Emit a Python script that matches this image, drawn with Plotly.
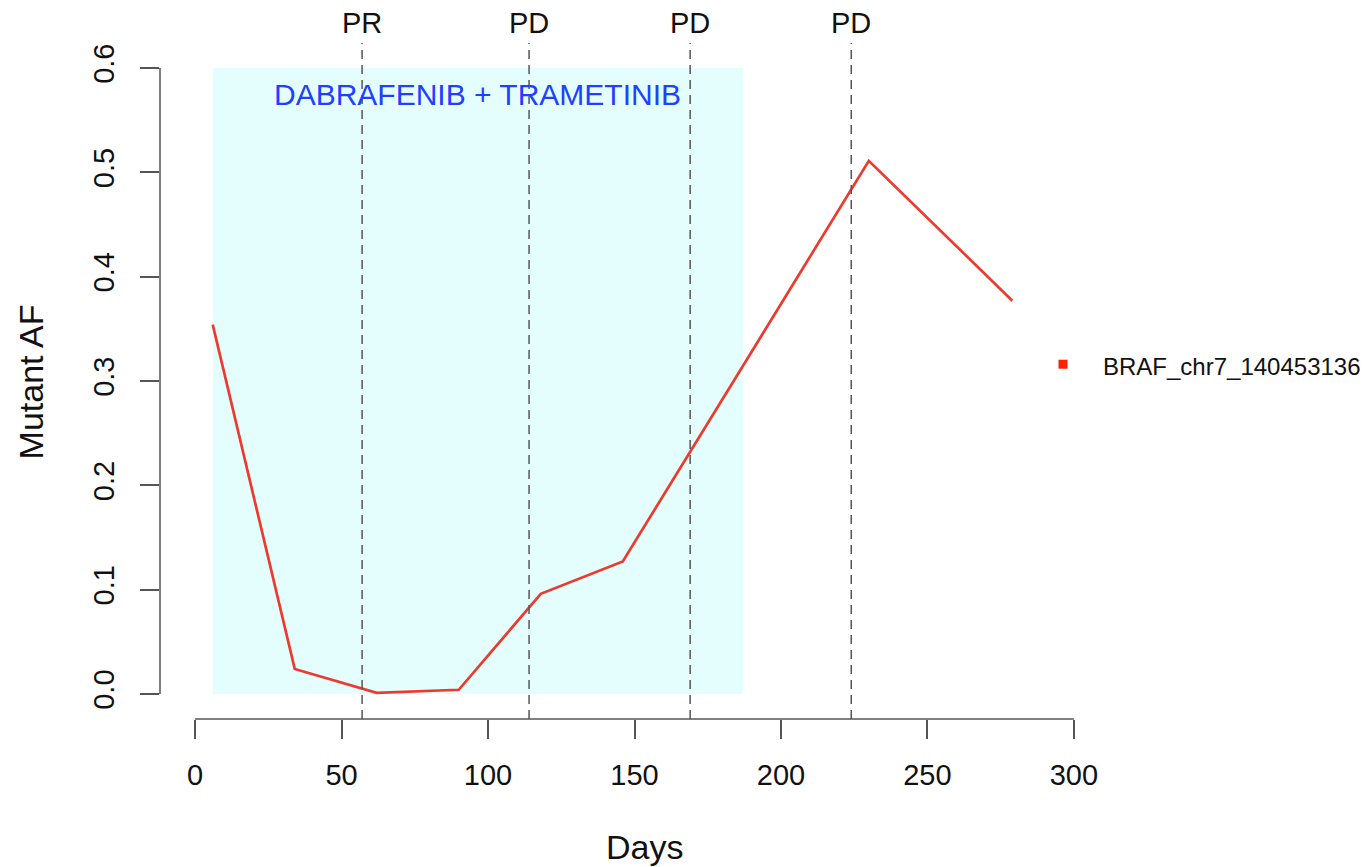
import plotly.graph_objects as go

# Data
days = [6, 34, 62, 90, 118, 146, 230, 279]
mutant_af = [0.354, 0.024, 0.001, 0.004, 0.096, 0.127, 0.511, 0.377]
series_name = "BRAF_chr7_140453136"
series_color = "#EE3A2E"
legend_color = "#FF2000"

event_days = [57, 114, 169, 224]
event_labels = ["PR", "PD", "PD", "PD"]

treatment_name = "DABRAFENIB + TRAMETINIB"
treatment_start = 6
treatment_end = 187
treatment_af_range = [0.0, 0.6]

x_ticks = [0, 50, 100, 150, 200, 250, 300]
y_ticks = [0.0, 0.1, 0.2, 0.3, 0.4, 0.5, 0.6]
y_tick_text = ["0.0", "0.1", "0.2", "0.3", "0.4", "0.5", "0.6"]

FONT = "Liberation Sans, Arial, Helvetica, sans-serif"
AXIS_COLOR = "#555555"

PLOT_L, PLOT_R, PLOT_T, PLOT_B = 159.8, 1109.0, 42.6, 719.0


def px_x(p):
    return (p - PLOT_L) / (PLOT_R - PLOT_L)


def px_y(p):
    return (PLOT_B - p) / (PLOT_B - PLOT_T)


fig = go.Figure()

fig.add_trace(go.Scatter(
    x=days, y=mutant_af, mode="lines", name=series_name,
    line=dict(color=series_color, width=2.7),
    showlegend=False,
))

shapes = []
# treatment window
shapes.append(dict(type="rect", xref="x", yref="y",
                   x0=treatment_start, x1=treatment_end,
                   y0=treatment_af_range[0], y1=treatment_af_range[1],
                   fillcolor="#E4FEFE", line=dict(width=0), layer="below"))
# event lines
for d in event_days:
    shapes.append(dict(type="line", xref="x", yref="paper", x0=d, x1=d, y0=0, y1=1,
                       line=dict(color="#555555", width=1.5, dash="9px,6px")))
# R-style axis lines
shapes.append(dict(type="line", xref="x", yref="paper", x0=x_ticks[0], x1=x_ticks[-1],
                   y0=0, y1=0, line=dict(color=AXIS_COLOR, width=1.5)))
shapes.append(dict(type="line", xref="paper", yref="y", x0=0, x1=0,
                   y0=y_ticks[0], y1=y_ticks[-1], line=dict(color=AXIS_COLOR, width=1.5)))
# legend key (square)
shapes.append(dict(type="rect", xref="paper", yref="paper",
                   xsizemode="pixel", ysizemode="pixel",
                   xanchor=px_x(1063), yanchor=px_y(364),
                   x0=-4.5, x1=4.5, y0=-4.5, y1=4.5,
                   fillcolor=legend_color, line=dict(width=0)))

annotations = []
for d, lab in zip(event_days, event_labels):
    annotations.append(dict(x=d, xref="x", y=1, yref="paper", yanchor="bottom",
                            yshift=2, text=lab, showarrow=False,
                            font=dict(family=FONT, size=29, color="#111111")))
annotations.append(dict(x=(treatment_start + treatment_end) / 2, xref="x", y=0.575, yref="y",
                        xanchor="center", yanchor="middle",
                        text=treatment_name, showarrow=False,
                        font=dict(family=FONT, size=30, color="#2040FF")))
annotations.append(dict(x=px_x(644), xref="paper", y=px_y(847), yref="paper",
                        xanchor="center", yanchor="middle",
                        text="Days", showarrow=False,
                        font=dict(family=FONT, size=34, color="#111111")))
annotations.append(dict(x=px_x(31), xref="paper", y=px_y(382), yref="paper",
                        xanchor="center", yanchor="middle",
                        text="Mutant AF", showarrow=False, textangle=-90,
                        font=dict(family=FONT, size=34, color="#111111")))
# legend label
annotations.append(dict(x=px_x(1101), xref="paper", y=px_y(366), yref="paper",
                        xanchor="left", yanchor="middle",
                        text=series_name, showarrow=False,
                        font=dict(family=FONT, size=24, color="#111111")))

fig.update_layout(
    width=1369, height=867,
    margin=dict(l=160, r=260, t=43, b=148),
    paper_bgcolor="white", plot_bgcolor="white",
    shapes=shapes, annotations=annotations,
    font=dict(family=FONT, color="#111111"),
    showlegend=False,
    xaxis=dict(range=[-12, 312], tickvals=x_ticks, ticks="outside", ticklen=19,
               tickwidth=1.5, tickcolor=AXIS_COLOR, showgrid=False, zeroline=False,
               showline=False, tickfont=dict(family=FONT, size=29, color="#111111"),
               ticklabelstandoff=11),
    yaxis=dict(range=[-0.024, 0.624], tickvals=y_ticks, ticktext=y_tick_text,
               ticks="outside", ticklen=19, tickwidth=1.5, tickcolor=AXIS_COLOR,
               showgrid=False, zeroline=False, showline=False, tickangle=-90,
               tickfont=dict(family=FONT, size=29, color="#111111"),
               ticklabelstandoff=14),
)

fig.write_html("out.html")
